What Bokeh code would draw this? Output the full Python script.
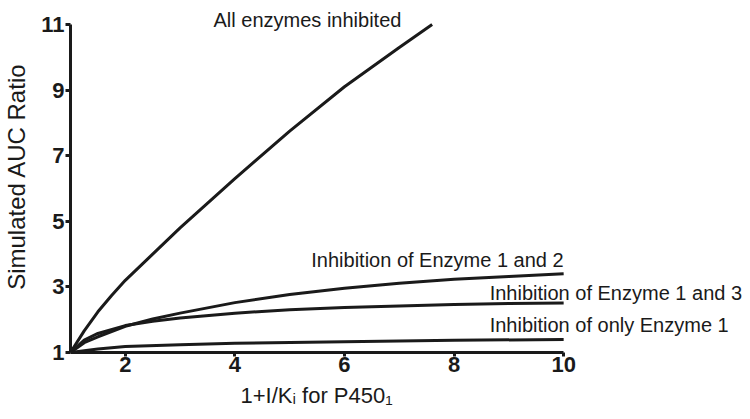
from bokeh.plotting import figure
from bokeh.models import Range1d, Label, FixedTicker, Title
from bokeh.embed import file_html
from bokeh.resources import INLINE

# Data
x_all = [1, 1.25, 1.5, 1.75, 2, 2.5, 3, 4, 5, 6, 7, 7.6]
y_all = [1, 1.66, 2.24, 2.74, 3.2, 4.0, 4.8, 6.3, 7.75, 9.1, 10.3, 11.0]

x_12 = [1, 1.25, 1.5, 2, 2.5, 3, 4, 5, 6, 7, 8, 9, 10]
y_12 = [1, 1.3, 1.48, 1.8, 2.02, 2.2, 2.52, 2.77, 2.96, 3.11, 3.23, 3.32, 3.4]

x_13 = [1, 1.25, 1.5, 2, 2.5, 3, 4, 5, 6, 7, 8, 9, 10]
y_13 = [1, 1.38, 1.58, 1.82, 1.95, 2.05, 2.2, 2.3, 2.37, 2.42, 2.46, 2.49, 2.51]

x_1 = [1, 1.5, 2, 3, 4, 6, 8, 10]
y_1 = [1, 1.11, 1.18, 1.24, 1.28, 1.33, 1.37, 1.4]

x_ticks = [2, 4, 6, 8, 10]
y_ticks = [1, 3, 5, 7, 9, 11]

series_labels = ["All enzymes inhibited", "Inhibition of Enzyme 1 and 2",
                 "Inhibition of Enzyme 1 and 3", "Inhibition of only Enzyme 1"]
x_title = "1+I/Kᵢ for P450₁"
y_title = "Simulated AUC Ratio"

FONT = "Liberation Sans"

# frame spans past the axes so that the curve labels are not clipped;
# the axis lines themselves are bounded to the data extent
p = figure(width=750, height=419, output_backend="svg", toolbar_location=None,
           x_range=Range1d(1, 13.41), y_range=Range1d(1, 11.73),
           min_border_left=70, min_border_right=0, min_border_top=0, min_border_bottom=67)
p.background_fill_color = "white"
p.border_fill_color = "white"
p.outline_line_color = None
p.xgrid.grid_line_color = None
p.ygrid.grid_line_color = None

for xs, ys in [(x_all, y_all), (x_12, y_12), (x_13, y_13), (x_1, y_1)]:
    p.line(xs, ys, line_color="#1a1a1a", line_width=3)

for ax in (p.xaxis[0], p.yaxis[0]):
    ax.axis_line_width = 3
    ax.axis_line_color = "#1a1a1a"
    ax.major_tick_line_width = 3
    ax.major_tick_line_color = "#1a1a1a"
    ax.major_tick_in = 0
    ax.minor_tick_line_color = None
    ax.major_label_text_font = FONT
    ax.major_label_text_font_style = "bold"
    ax.major_label_text_font_size = "22px"
    ax.major_label_text_color = "#1a1a1a"
    ax.axis_label_text_font = FONT
    ax.axis_label_text_font_style = "normal"
    ax.axis_label_text_color = "#1a1a1a"

p.xaxis.bounds = (1, 10)
p.yaxis.bounds = (1, 11)
p.xaxis.ticker = FixedTicker(ticks=x_ticks)
p.yaxis.ticker = FixedTicker(ticks=y_ticks)
p.xaxis.major_tick_out = 4
p.yaxis.major_tick_out = 5
p.xaxis.major_label_standoff = 0
p.yaxis.major_label_standoff = 1
p.yaxis.axis_label = y_title
p.yaxis.axis_label_text_font_size = "24px"
p.yaxis.axis_label_standoff = 8

# x-axis title, centred under the bounded axis (not the wider frame)
p.add_layout(Title(text=x_title, align="left", offset=170, standoff=12,
                   text_font=FONT, text_font_size="22px", text_font_style="normal",
                   text_color="#1a1a1a"), "below")

label_pos = [(3.61, 11.15, "left"), (10, 3.83, "right"), (8.65, 2.825, "left"), (8.65, 1.85, "left")]
for (lx, ly, al), txt in zip(label_pos, series_labels):
    p.add_layout(Label(x=lx, y=ly, text=txt, text_align=al, text_baseline="alphabetic",
                       text_font=FONT, text_font_size="20px", text_color="#1a1a1a"))

open("out.html", "w").write(file_html(p, INLINE))
